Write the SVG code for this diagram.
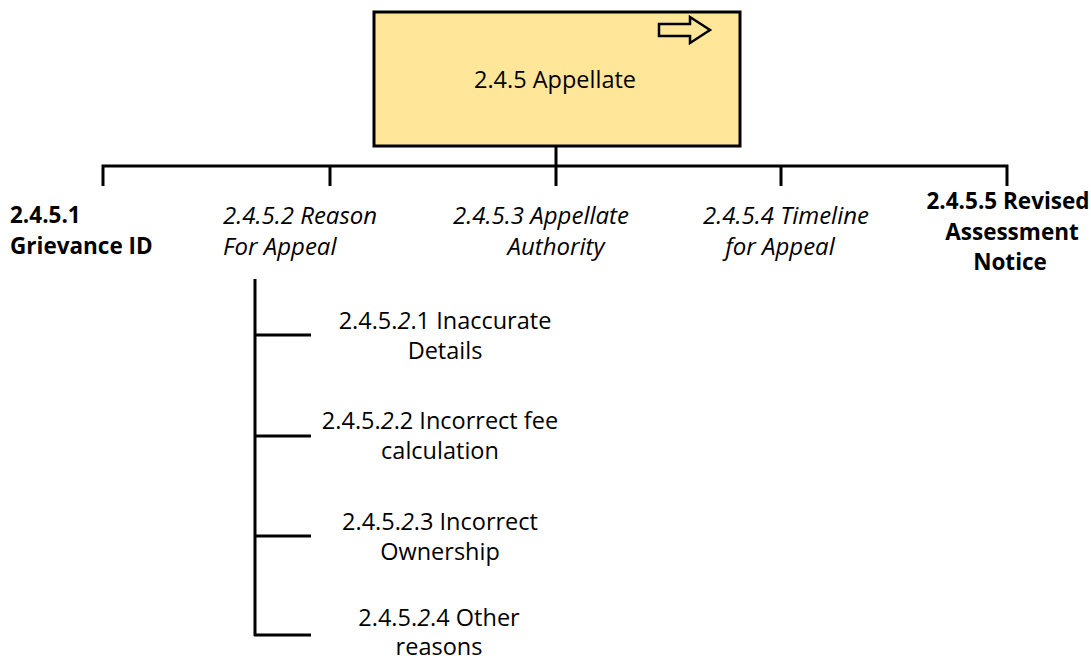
<svg xmlns="http://www.w3.org/2000/svg" width="1091" height="659" viewBox="0 0 1091 659">
<style>
text{font-family:"Open Sans","Noto Sans","Liberation Sans",sans-serif;fill:#000;font-size:23.5px}
.b{font-weight:bold;font-size:22.5px}
.i{font-style:italic;font-size:24px}
.m{text-anchor:middle}
.ln{stroke:#000;stroke-width:3;fill:none}
</style>
<rect width="1091" height="659" fill="#fff"/>
<g id="connectors">
<path class="ln" d="M556 146V166M103 186V166H1007V186M330 166V186M556 166V186M781 166V186"/>
<path class="ln" d="M255 279V636M254 335H311M254 436H311M254 536H311M254 635H311"/>
</g>
<g id="n245">
<rect x="374" y="12" width="366" height="134" fill="#FFE699" stroke="#000" stroke-width="3"/>
<path d="M659 24H690V17L710 30L690 43V36H659Z" fill="none" stroke="#000" stroke-width="2.5"/>
<text class="m" x="555" y="88">2.4.5 Appellate</text>
</g>
<g id="n2451">
<text class="b" x="10" y="223">2.4.5.1</text>
<text class="b" x="10" y="254">Grievance ID</text>
</g>
<g id="n2452">
<text class="i" x="223" y="224">2.4.5.2 Reason</text>
<text class="i" x="223" y="255">For Appeal</text>
</g>
<g id="n2453">
<text class="i m" x="541" y="224">2.4.5.3 Appellate</text>
<text class="i m" x="556" y="255">Authority</text>
</g>
<g id="n2454">
<text class="i m" x="786" y="224">2.4.5.4 Timeline</text>
<text class="i m" x="780" y="255">for Appeal</text>
</g>
<g id="n2455">
<text class="b m" x="1008" y="209">2.4.5.5 Revised</text>
<text class="b m" x="1012" y="240">Assessment</text>
<text class="b m" x="1010" y="270">Notice</text>
</g>
<g id="n24521">
<text class="m" x="445" y="329">2.4.5.<tspan font-style="italic">2</tspan>.1 Inaccurate</text>
<text class="m" x="445" y="359">Details</text>
</g>
<g id="n24522">
<text class="m" x="440" y="429">2.4.5.<tspan font-style="italic">2</tspan>.2 Incorrect fee</text>
<text class="m" x="440" y="459">calculation</text>
</g>
<g id="n24523">
<text class="m" x="440" y="530">2.4.5.<tspan font-style="italic">2</tspan>.3 Incorrect</text>
<text class="m" x="440" y="560">Ownership</text>
</g>
<g id="n24524">
<text class="m" x="439" y="626">2.4.5.<tspan font-style="italic">2</tspan>.4 Other</text>
<text class="m" x="439" y="655">reasons</text>
</g>
</svg>
